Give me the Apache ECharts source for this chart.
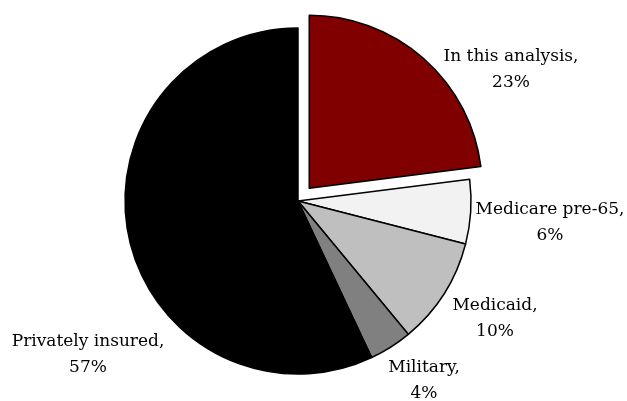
<!DOCTYPE html>
<html>
<head>
<meta charset="utf-8">
<script src="https://cdn.jsdelivr.net/npm/echarts@6/dist/echarts.min.js"></script>
<style>
html, body { margin: 0; padding: 0; background: #fff; }
#main { width: 627px; height: 401px; }
</style>
</head>
<body>
<div id="main"></div>
<script>
var names = ['In this analysis', 'Medicare pre-65', 'Medicaid', 'Military', 'Privately insured'];
var shares = [23, 6, 10, 4, 57];
var colors = ['#800000', '#f2f2f2', '#bfbfbf', '#808080', '#000000'];

// centre of each two-line label
var labelSpots = [[511, 70], [550, 223], [495, 319], [424, 381], [88, 355]];

var pieCenter = [298, 201];
var pieRadius = 173;
var pullOut = 17; // how far the first slice is pulled out

// direction of the pulled-out slice: middle of its angle, clockwise from 12 o'clock
var total = 0;
for (var k = 0; k < shares.length; k++) total += shares[k];
var midAngle = shares[0] / total * Math.PI;
var pulledCenter = [
    pieCenter[0] + pullOut * Math.sin(midAngle),
    pieCenter[1] - pullOut * Math.cos(midAngle)
];

// two copies of the same pie: one keeps the rest, one holds only the pulled-out slice
function buildData(keepFirst) {
    var out = [];
    for (var i = 0; i < names.length; i++) {
        var visible = keepFirst ? i === 0 : i !== 0;
        out.push({
            name: names[i],
            value: shares[i],
            itemStyle: visible
                ? { color: colors[i], borderColor: '#000', borderWidth: 1.5 }
                : { color: 'rgba(0,0,0,0)', borderWidth: 0 },
            label: { show: visible }
        });
    }
    return out;
}

var labelStyle = {
    show: true,
    position: 'outside',
    formatter: '{b},\n{c}%',
    fontFamily: 'DejaVu Serif',
    fontSize: 17,
    lineHeight: 26,
    color: '#000',
    align: 'center',
    verticalAlign: 'middle'
};

function placeLabel(p) {
    var s = labelSpots[p.dataIndex];
    return { x: s[0], y: s[1], align: 'center', verticalAlign: 'middle' };
}

var chart = echarts.init(document.getElementById('main'));
chart.setOption({
    animation: false,
    series: [{
        type: 'pie',
        center: pieCenter,
        radius: [0, pieRadius],
        startAngle: 90,
        clockwise: true,
        avoidLabelOverlap: false,
        silent: true,
        data: buildData(false),
        label: labelStyle,
        labelLine: { show: false },
        labelLayout: placeLabel
    }, {
        type: 'pie',
        center: pulledCenter,
        radius: [0, pieRadius],
        startAngle: 90,
        clockwise: true,
        avoidLabelOverlap: false,
        silent: true,
        data: buildData(true),
        label: labelStyle,
        labelLine: { show: false },
        labelLayout: placeLabel
    }]
});
</script>
</body>
</html>
